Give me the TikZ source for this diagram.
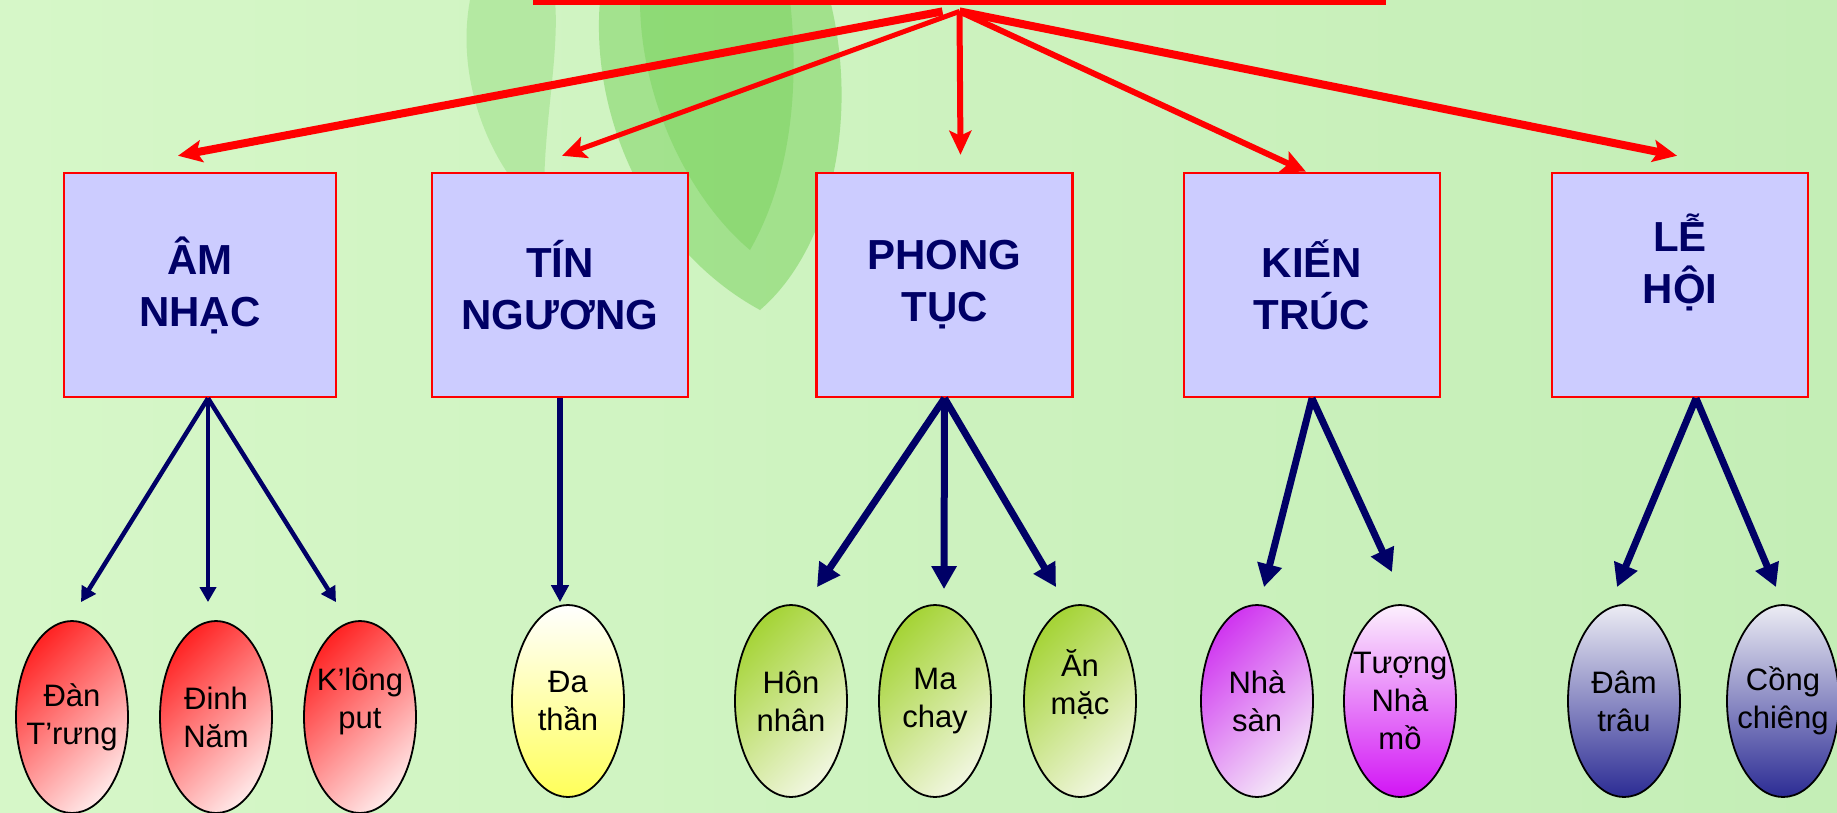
\documentclass[tikz,border=0pt]{standalone}
\usepackage{fontspec}
\setmainfont{Liberation Sans}
\usepackage{xcolor}
\usetikzlibrary{calc, positioning, shapes.geometric, arrows.meta, backgrounds}

\definecolor{navy}{RGB}{0,0,102}
\definecolor{lavender}{RGB}{204,204,255}
\definecolor{bgleft}{RGB}{214,247,200}
\definecolor{bgright}{RGB}{196,238,182}
\definecolor{leafgreen}{RGB}{96,200,64}

\begin{document}
\begin{tikzpicture}[x=1pt,y=-1pt,
                    box node/.style={rectangle,draw=red,line width=2.5pt,fill=lavender,minimum width=256pt,minimum height=224pt,inner sep=0pt,align=center,text=navy,font=\fontsize{42}{52}\selectfont\bfseries},
                    oval node/.style={ellipse,draw=black,line width=1.8pt,minimum width=112pt,minimum height=192pt,inner sep=-20pt,align=center,font=\fontsize{31}{38}\selectfont},
                    red arrow/.style={red,-{Stealth[length=24pt,width=22pt,inset=5pt]}},
                    blue arrow/.style={navy,-{Triangle[length=23pt,width=24pt]}}]

  % background
  \useasboundingbox (0,0) rectangle (1837,812);
  \fill[left color=bgleft,right color=bgright] (0,0) rectangle (1837,812);
  \fill[leafgreen,opacity=0.25] (470,0) .. controls (455,80) and (490,170) .. (545,215) .. controls (540,140) and (560,60) .. (555,0) -- cycle;
  \fill[leafgreen,opacity=0.4] (600,0) .. controls (590,120) and (650,250) .. (760,310) .. controls (830,250) and (860,120) .. (830,0) -- cycle;
  \fill[leafgreen,opacity=0.3] (640,0) .. controls (640,100) and (690,200) .. (750,250) .. controls (790,180) and (800,90) .. (790,0) -- cycle;

  % title bar
  \node[fill=red,minimum width=853pt,minimum height=5pt,inner sep=0pt,anchor=north] (title) at (959.5,0) {};
  \coordinate (apex) at ([yshift=-6pt]title.south);

  % groups
  \node[box node,minimum width=272pt] (1) at (200,285) {ÂM\\NHẠC};
  \node[box node] (2) at (560,285) {TÍN\\NGƯƠNG};
  \node[box node] (3) at (944.5,285) {PHONG\\TỤC};
  \node[box node] (4) at (1312,285) {KIẾN\\TRÚC};
  \node[box node] (5) at (1680,285) {LỄ\\HỘI\\\mbox{}};

  % items
  \node[oval node,top color=red!85,bottom color=red!10,shading angle=45] (11) at (72,717) {Đàn\\T’rưng};
  \node[oval node,top color=red!85,bottom color=red!10,shading angle=45] (12) at (216,717) {Đinh\\Năm};
  \node[oval node,top color=red!85,bottom color=red!10,shading angle=45] (13) at (360,717) {K’lông\\put\\\mbox{}};
  \node[oval node,top color=white,bottom color=yellow!65] (21) at (568,701) {Đa\\thần};
  \node[oval node,top color={rgb,255:red,166;green,212;blue,56},bottom color={rgb,255:red,240;green,246;blue,222},shading angle=45] (31) at (791,701) {Hôn\\nhân};
  \node[oval node,top color={rgb,255:red,166;green,212;blue,56},bottom color={rgb,255:red,240;green,246;blue,222},shading angle=45] (32) at (935,701) {Ma\\chay};
  \node[oval node,top color={rgb,255:red,166;green,212;blue,56},bottom color={rgb,255:red,240;green,246;blue,222},shading angle=45] (33) at (1080,701) {Ăn\\mặc\\\mbox{}};
  \node[oval node,top color={rgb,255:red,208;green,56;blue,240},bottom color={rgb,255:red,244;green,230;blue,248},shading angle=45] (41) at (1257,701) {Nhà\\sàn};
  \node[oval node,top color={rgb,255:red,252;green,240;blue,253},bottom color={rgb,255:red,210;green,20;blue,245}] (42) at (1400,701) {Tượng\\Nhà\\mồ};
  \node[oval node,top color={rgb,255:red,236;green,236;blue,244},bottom color={rgb,255:red,44;green,44;blue,148}] (51) at (1624,701) {Đâm\\trâu};
  \node[oval node,top color={rgb,255:red,236;green,236;blue,244},bottom color={rgb,255:red,44;green,44;blue,148}] (52) at (1783,701) {Cồng\\chiêng};

  % title to groups
  \path[red arrow]
  ([xshift=-17pt]apex) edge[line width=8pt] ([shift={(-22,-16)}]1.north)
  (apex) edge[line width=5pt] ([shift={(2,-16)}]2.north)
         edge[line width=6pt] ([shift={(16,-17)}]3.north)
         edge[line width=6pt] ([shift={(-6,0)}]4.north)
         edge[line width=8pt] ([shift={(-3,-16)}]5.north);

  % groups to items
  \path[blue arrow,line width=4.5pt,-{Triangle[length=15pt,width=16pt]}]
  ([xshift=8pt]1.south) edge ([shift={(9,-18)}]11.north)
                        edge ([shift={(-8,-18)}]12.north)
                        edge ([shift={(-24,-18)}]13.north);
  \path[blue arrow,line width=6pt,-{Triangle[length=17pt,width=17pt]}]
  (2.south) edge ([shift={(-8,-2)}]21.north);
  \path[blue arrow,line width=7pt]
  (3.south) edge ([shift={(26,-17)}]31.north)
            edge ([shift={(9,-15)}]32.north)
            edge ([shift={(-24,-17)}]33.north)
  (4.south) edge ([shift={(7,-17)}]41.north)
            edge ([shift={(-8,-32)}]42.north)
  ([xshift=16pt]5.south) edge ([shift={(-7,-17)}]51.north)
                         edge ([shift={(-7,-17)}]52.north);

\end{tikzpicture}
\end{document}
